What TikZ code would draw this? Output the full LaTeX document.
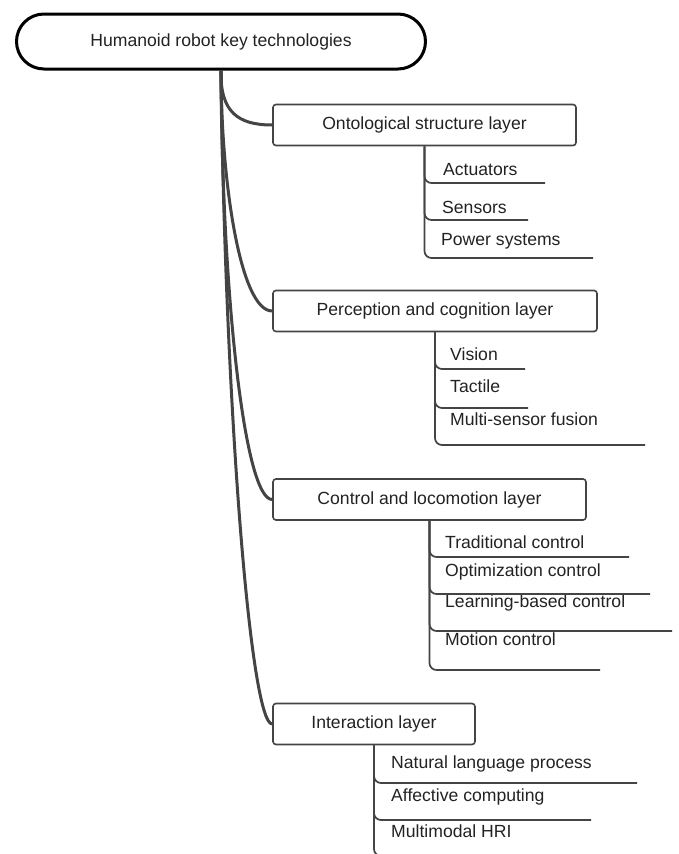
\documentclass[tikz,border=0pt]{standalone}
\usepackage{fontspec}
\setmainfont{Liberation Sans}
\usepackage{tikz}
\usetikzlibrary{shapes.misc}

\definecolor{inkgray}{HTML}{444444}
\definecolor{txtgray}{HTML}{222222}

\begin{document}
\begin{tikzpicture}[x=1pt,y=-1pt,
    font=\fontsize{17.6}{20}\selectfont, text=txtgray,
    rootbox/.style={rounded rectangle, draw=black, line width=3pt, minimum width=409pt, minimum height=55pt, inner sep=0pt},
    layerbox/.style={rectangle, rounded corners=3pt, draw=inkgray, line width=1.6pt, minimum height=41pt, inner sep=0pt},
    leaf/.style={anchor=west, inner sep=0pt},
    trunk/.style={draw=inkgray, line width=3pt},
    twig/.style={draw=inkgray, line width=1.7pt, rounded corners=7pt}]
  \path[use as bounding box, clip] (0,0) rectangle (679,854);

  % Draw root
  \node[rootbox] (root) at (221,41.5) {Humanoid robot key technologies};

  % Draw layers
  \node[layerbox, minimum width=303pt] (ont) at (424.5,125) {Ontological structure layer};
  \node[layerbox, minimum width=324pt] (per) at (435,311) {Perception and cognition layer};
  \node[layerbox, minimum width=313pt] (ctl) at (429.5,499.5) {Control and locomotion layer};
  \node[layerbox, minimum width=202pt] (itr) at (374,724) {Interaction layer};

  % Draw trunk
  \draw[trunk] (root.south) .. controls (220,112) and (238,125) .. (ont.west);
  \draw[trunk] (root.south) .. controls (221,180) and (240,311) .. (per.west);
  \draw[trunk] (root.south) .. controls (222,290) and (244,499.5) .. (ctl.west);
  \draw[trunk] (root.south) .. controls (225,400) and (250,724) .. (itr.west);

  % Ontological structure leaves
  \node[leaf] (act) at (443,170) {Actuators};
  \node[leaf] (sen) at (442,207) {Sensors};
  \node[leaf] (pow) at (441,241) {Power systems};
  \coordinate (act-e) at (545,183);
  \coordinate (sen-e) at (528,220);
  \coordinate (pow-e) at (593,258);
  \draw[twig] (ont.south) |- (act-e);
  \draw[twig] (ont.south) |- (sen-e);
  \draw[twig] (ont.south) |- (pow-e);

  % Perception and cognition leaves
  \node[leaf] (vis) at (450,354) {Vision};
  \node[leaf] (tac) at (450,386) {Tactile};
  \node[leaf] (fus) at (450,419) {Multi-sensor fusion};
  \coordinate (vis-e) at (525,369);
  \coordinate (tac-e) at (528,408);
  \coordinate (fus-e) at (645,445);
  \draw[twig] (per.south) |- (vis-e);
  \draw[twig] (per.south) |- (tac-e);
  \draw[twig] (per.south) |- (fus-e);

  % Control and locomotion leaves
  \node[leaf] (trad) at (445,542) {Traditional control};
  \node[leaf] (opt) at (445,572) {Optimization control};
  \node[leaf] (lrn) at (445,603) {Learning-based control};
  \node[leaf] (mot) at (445,639) {Motion control};
  \coordinate (trad-e) at (629,557);
  \coordinate (opt-e) at (650,594);
  \coordinate (lrn-e) at (672,631);
  \coordinate (mot-e) at (600,670);
  \draw[twig] (ctl.south) |- (trad-e);
  \draw[twig] (ctl.south) |- (opt-e);
  \draw[twig] (ctl.south) |- (lrn-e);
  \draw[twig] (ctl.south) |- (mot-e);

  % Interaction leaves
  \node[leaf] (nlp) at (391,764) {Natural language process};
  \node[leaf] (aff) at (391,797) {Affective computing};
  \node[leaf] (hri) at (391,831) {Multimodal HRI};
  \coordinate (nlp-e) at (637,783);
  \coordinate (aff-e) at (591,820);
  \coordinate (hri-e) at (560,856);
  \draw[twig] (itr.south) |- (nlp-e);
  \draw[twig] (itr.south) |- (aff-e);
  \draw[twig] (itr.south) |- (hri-e);
\end{tikzpicture}
\end{document}
